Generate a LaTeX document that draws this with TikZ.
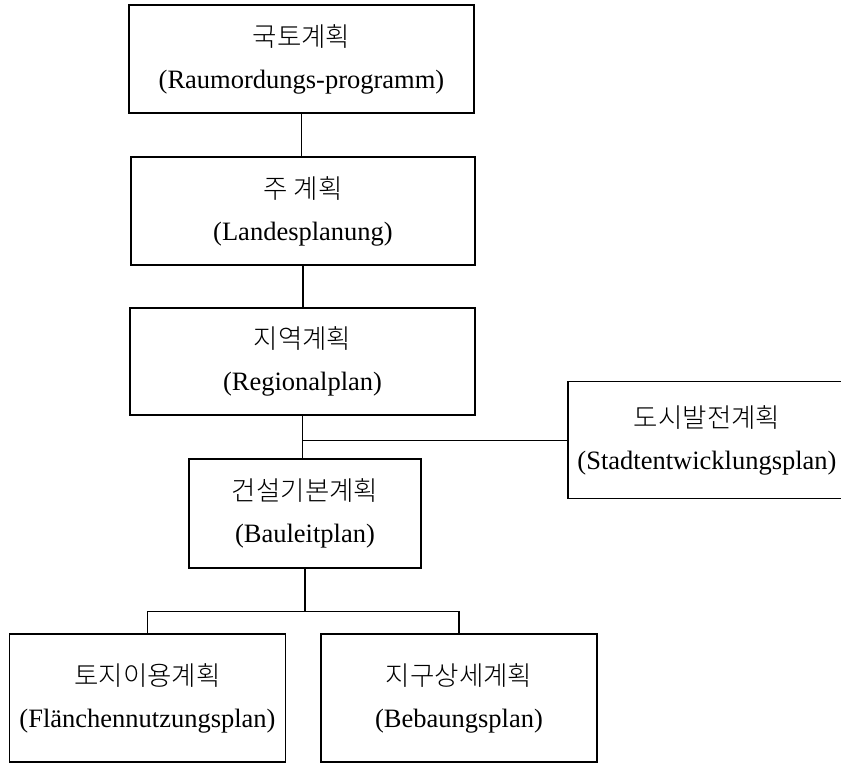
\documentclass[tikz,border=0pt]{standalone}
\usepackage{fontspec}
\usetikzlibrary{calc}
\setmainfont{Liberation Serif}
\newfontfamily\krfont[UprightFont={* Light}]{Noto Sans CJK KR}
\begin{document}
\begin{tikzpicture}[x=1pt,y=-1pt,
  box/.style={draw=black, line width=1.2pt, fill=white, inner sep=0pt, align=center,
    font=\fontsize{26.5}{42}\selectfont},
  conn/.style={draw=black, line width=1.1pt}]
\clip (0,0) rectangle (841,764);
\fill[white] (0,0) rectangle (841,764);
\node[box, minimum width=345pt, minimum height=108pt] (b1) at (301.5,59)
  {{\krfont 국토계획}\\(Raumordungs-programm)};
\node[box, minimum width=344pt, minimum height=108pt] (b2) at (303,211)
  {{\krfont 주 계획}\\(Landesplanung)};
\node[box, minimum width=345pt, minimum height=107pt] (b3) at (302.5,361.5)
  {{\krfont 지역계획}\\(Regionalplan)};
\node[box, minimum width=278pt, minimum height=117pt] (b4) at (707,440.3)
  {{\krfont 도시발전계획}\\(Stadtentwicklungsplan)};
\node[box, minimum width=232pt, minimum height=109pt] (b5) at (305,513.5)
  {{\krfont 건설기본계획}\\(Bauleitplan)};
\node[box, minimum width=276pt, minimum height=128pt] (b6) at (147.5,698)
  {{\krfont 토지이용계획}\\(Flänchennutzungsplan)};
\node[box, minimum width=276pt, minimum height=128pt] (b7) at (459,698)
  {{\krfont 지구상세계획}\\(Bebaungsplan)};
\coordinate (j1) at (b3.south |- b4.west);
\coordinate (j2) at ($(b5.south)+(0,43)$);
\draw[conn] (b1.south) -- (b1.south |- b2.north);
\draw[conn] (b2.south) -- (b2.south |- b3.north);
\draw[conn] (b3.south) -- (b3.south |- b5.north);
\draw[conn] (j1) -- (b4.west);
\draw[conn] (b5.south) -- (j2);
\draw[conn] (b6.north) |- (j2) -| (b7.north);
\end{tikzpicture}
\end{document}
